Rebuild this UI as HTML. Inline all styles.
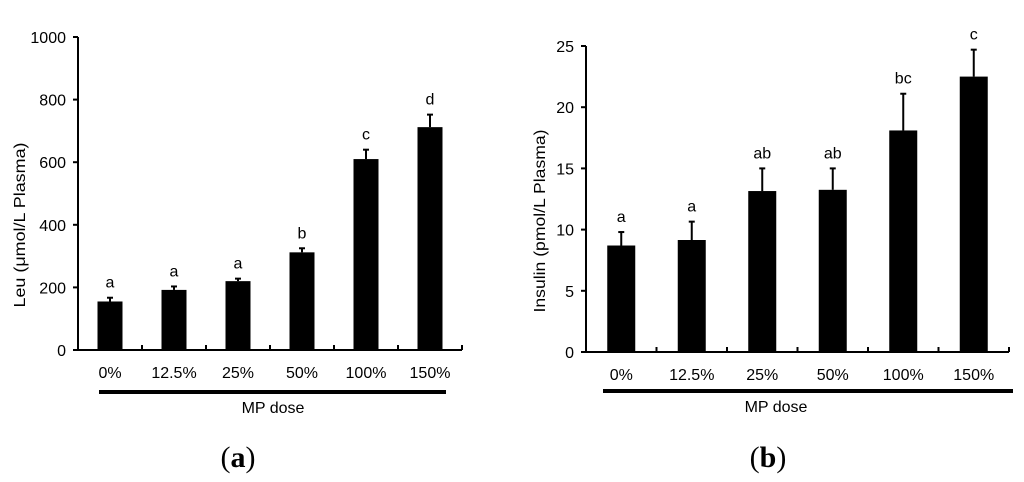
<!DOCTYPE html>
<html><head><meta charset="utf-8"><style>
body{margin:0;background:#fff}
svg{display:block;font-family:"Liberation Sans",Arial,sans-serif}
</style></head><body>
<svg id="s" width="1024" height="482" viewBox="0 0 1024 482"></svg>
<script>
const categories=["0%","12.5%","25%","50%","100%","150%"];
const leuValues=[155,192,220,312,610,712];
const leuErrors=[12,11,8,13,30,40];
const leuLetters=["a","a","a","b","c","d"];
const leuTicks=[0,200,400,600,800,1000];
const insValues=[8.7,9.15,13.15,13.25,18.1,22.5];
const insErrors=[1.1,1.5,1.85,1.75,3.0,2.2];
const insLetters=["a","a","ab","ab","bc","c"];
const insTicks=[0,5,10,15,20,25];
const NS="http://www.w3.org/2000/svg";
const svg=document.getElementById('s');
function mk(tag,attrs,parent,text){const e=document.createElementNS(NS,tag);for(const k in attrs)e.setAttribute(k,attrs[k]);if(text!==undefined)e.textContent=text;(parent||svg).appendChild(e);return e;}
function panel(cfg){
  const g=mk('g',{});
  
  
  const y=v=>cfg.y0-(v/cfg.max)*(cfg.y0-cfg.y1);
  const bw=(cfg.x1-cfg.x0)/categories.length;
  const x=i=>cfg.x0+bw*(i+0.5);
  const ya=mk('line',{x1:cfg.x0,y1:cfg.y1,x2:cfg.x0,y2:cfg.y0,stroke:'#000','stroke-width':2},g);
  
  const xa=mk('line',{x1:cfg.x0,y1:cfg.y0,x2:cfg.x1,y2:cfg.y0,stroke:'#000','stroke-width':2},g);
  
  cfg.ticks.forEach(t=>{
    mk('line',{x1:cfg.x0-5,y1:y(t),x2:cfg.x0,y2:y(t),stroke:'#000','stroke-width':2},g);
    const tl=mk('text',{x:cfg.x0-12,y:y(t)+6,'text-anchor':'end','font-size':16},g,String(t));
    
  });
  for(let i=1;i<=categories.length;i++){
    const tx=cfg.x0+bw*i;
    mk('line',{x1:tx,y1:cfg.y0,x2:tx,y2:cfg.y0-5,stroke:'#000','stroke-width':2},g);
  }
  categories.forEach((c,i)=>{
    const v=cfg.values[i],e=cfg.errors[i];
    const top=y(v+e);
    const el=mk('line',{x1:x(i),y1:top,x2:x(i),y2:y(v),stroke:'#000','stroke-width':2},g);
    
    mk('line',{x1:x(i)-3,y1:top,x2:x(i)+3,y2:top,stroke:'#000','stroke-width':2},g);
    const b=mk('rect',{x:x(i)-cfg.barW/2,y:y(v),width:cfg.barW,height:cfg.y0-y(v),fill:'#000'},g);
    
    const lt=mk('text',{x:x(i),y:top-10,'text-anchor':'middle','font-size':16},g,cfg.letters[i]);
    
    const xl=mk('text',{x:x(i),y:cfg.y0+28,'text-anchor':'middle','font-size':16},g,c);
    
  });
  const ul=mk('rect',{x:cfg.ulx0,y:cfg.uly,width:cfg.ulx1-cfg.ulx0,height:4,fill:'#000'},g);
  
  const xt=mk('text',{x:cfg.mpx,y:cfg.uly+23,'text-anchor':'middle','font-size':16},g,'MP dose');
  
  const yt=mk('text',{x:0,y:0,'text-anchor':'middle','font-size':16,textLength:cfg.ytl,lengthAdjust:'spacingAndGlyphs',transform:`translate(${cfg.ytx},${cfg.ytc}) rotate(-90)`},g,cfg.ytitle);
  
  const pl=mk('text',{x:cfg.plx,y:467,'text-anchor':'middle','font-size':30,'font-family':'Liberation Serif,serif'},g);
  
  mk('tspan',{},pl,'(');mk('tspan',{'font-weight':'bold'},pl,cfg.pl);mk('tspan',{},pl,')');
}
panel({name:'chart-a',x0:78,x1:462,y0:350,y1:37,max:1000,ticks:leuTicks,values:leuValues,errors:leuErrors,letters:leuLetters,barW:25,ulx0:99,ulx1:446,uly:390,mpx:273,ytx:25,ytc:225,ytl:165,ytitle:'Leu (μmol/L  Plasma)',plx:238,pl:'a'});
panel({name:'chart-b',x0:586,x1:1009,y0:352,y1:46,max:25,ticks:insTicks,values:insValues,errors:insErrors,letters:insLetters,barW:28,ulx0:603,ulx1:1013,uly:389,mpx:776,ytx:545,ytc:221,ytl:183,ytitle:'Insulin  (pmol/L Plasma)',plx:768,pl:'b'});
</script>
</body></html>
